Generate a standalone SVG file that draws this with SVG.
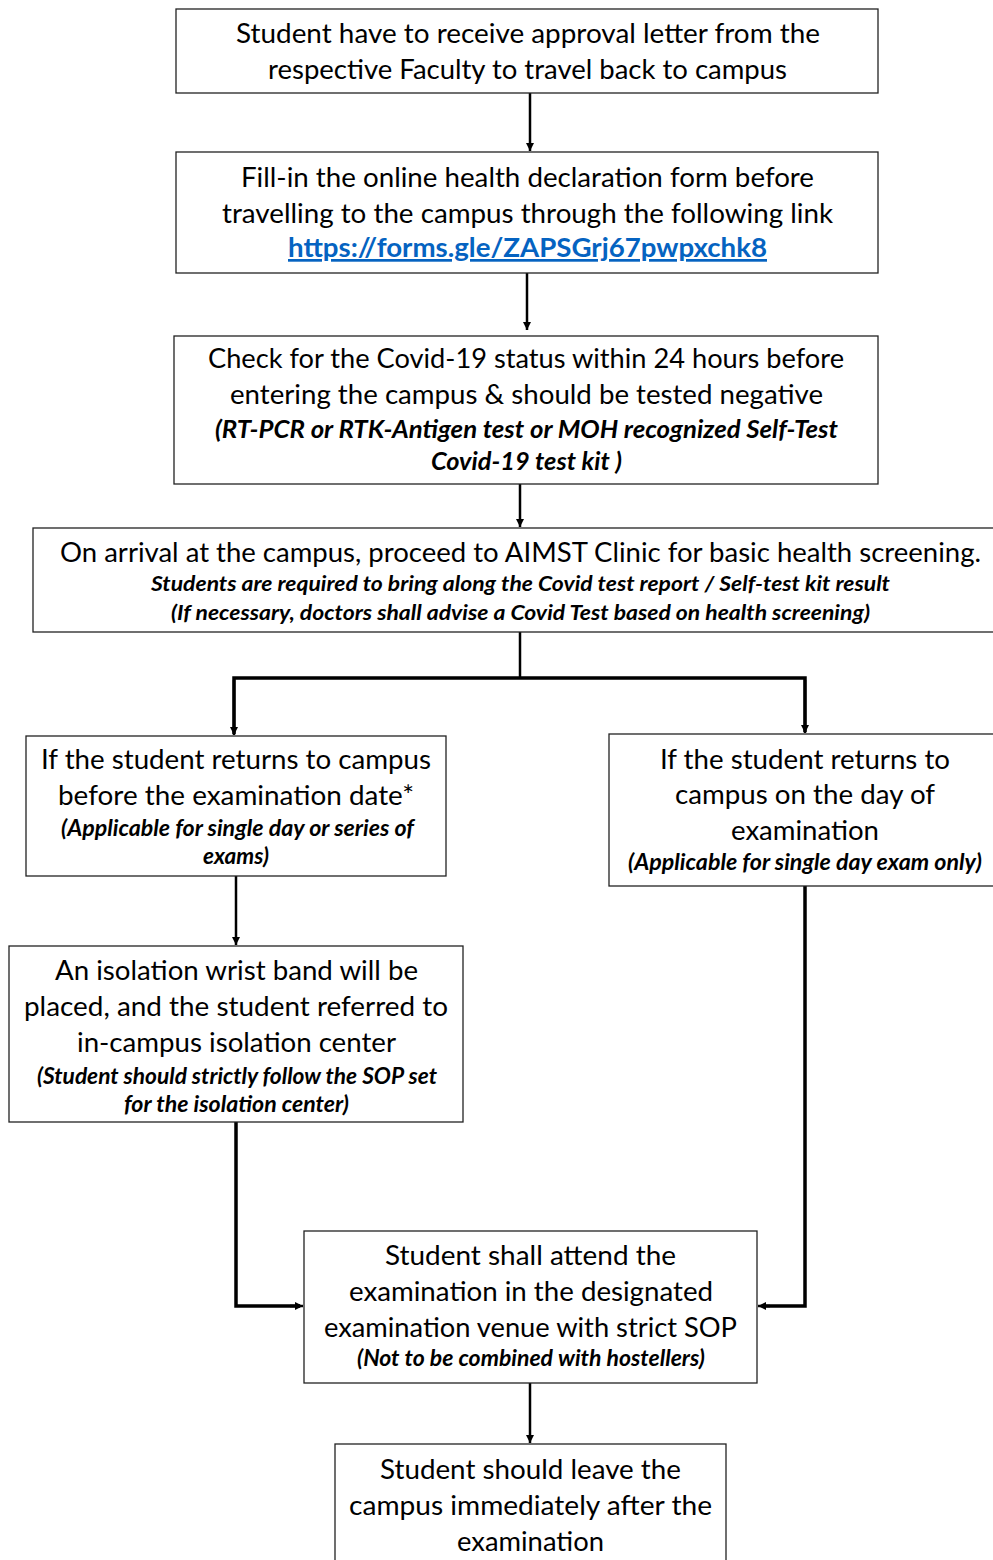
<svg xmlns="http://www.w3.org/2000/svg" width="993" height="1560" viewBox="0 0 993 1560">
<style>
.box{fill:#fff;stroke:#222;stroke-width:1.3}
text{font-family:Lato,"Liberation Sans",sans-serif;fill:#000;text-anchor:middle}
.t{font-size:27px}
.n{font-size:22px;font-weight:bold;font-style:italic}
.s{font-size:21px;font-weight:bold;font-style:italic}
.link{font-size:27px;font-weight:bold;fill:#0563C1;text-decoration:underline}
.c{fill:none;stroke:#000;stroke-width:2.5}
.k{fill:none;stroke:#000;stroke-width:3.5}
</style>
<defs>
<marker id="ah" markerWidth="10" markerHeight="10" refX="8" refY="5" orient="auto" markerUnits="userSpaceOnUse"><path d="M0,1 L8,5 L0,9 Z" fill="#000"/></marker>
</defs>
<g id="connectors">
<line class="c" x1="530" y1="93" x2="530" y2="151" marker-end="url(#ah)"/>
<line class="c" x1="527" y1="273" x2="527" y2="330" marker-end="url(#ah)"/>
<line class="c" x1="520" y1="484" x2="520" y2="527" marker-end="url(#ah)"/>
<line class="c" x1="520" y1="632" x2="520" y2="678"/>
<polyline class="k" points="234,734 234,678 805,678 805,732"/>
<line class="c" x1="234" y1="680" x2="234" y2="735" marker-end="url(#ah)"/>
<line class="c" x1="805" y1="680" x2="805" y2="733" marker-end="url(#ah)"/>
<line class="c" x1="236" y1="876" x2="236" y2="945" marker-end="url(#ah)"/>
<polyline class="k" points="236,1122 236,1306 300,1306"/>
<line class="c" x1="290" y1="1306" x2="303" y2="1306" marker-end="url(#ah)"/>
<polyline class="k" points="805,886 805,1306 762,1306"/>
<line class="c" x1="770" y1="1306" x2="758" y2="1306" marker-end="url(#ah)"/>
<line class="c" x1="530" y1="1383" x2="530" y2="1443" marker-end="url(#ah)"/>
</g>
<g id="n1">
<rect class="box" x="176" y="9" width="702" height="84"/>
<text class="t" x="528" y="43" textLength="584" lengthAdjust="spacingAndGlyphs">Student have to receive approval letter from the</text>
<text class="t" x="527.5" y="79" textLength="519" lengthAdjust="spacingAndGlyphs">respective Faculty to travel back to campus</text>
</g>
<g id="n2">
<rect class="box" x="176" y="152" width="702" height="121"/>
<text class="t" x="527.5" y="187" textLength="573" lengthAdjust="spacingAndGlyphs">Fill-in the online health declaration form before</text>
<text class="t" x="527.5" y="223" textLength="611" lengthAdjust="spacingAndGlyphs">travelling to the campus through the following link</text>
<text class="link" x="527.5" y="257" textLength="479" lengthAdjust="spacingAndGlyphs">https://forms.gle/ZAPSGrj67pwpxchk8</text>
</g>
<g id="n3">
<rect class="box" x="174" y="336" width="704" height="148"/>
<text class="t" x="526" y="368" textLength="636" lengthAdjust="spacingAndGlyphs">Check for the Covid-19 status within 24 hours before</text>
<text class="t" x="526.5" y="404" textLength="593" lengthAdjust="spacingAndGlyphs">entering the campus &amp; should be tested negative</text>
<text class="n" x="526.5" y="438" style="font-size:24px" textLength="623" lengthAdjust="spacingAndGlyphs">(RT-PCR or RTK-Antigen test or MOH recognized Self-Test</text>
<text class="n" x="526.5" y="470" style="font-size:24px" textLength="191" lengthAdjust="spacingAndGlyphs">Covid-19 test kit )</text>
</g>
<g id="n4">
<rect class="box" x="33" y="528" width="970" height="104"/>
<text class="t" x="520.5" y="562" textLength="921" lengthAdjust="spacingAndGlyphs">On arrival at the campus, proceed to AIMST Clinic for basic health screening.</text>
<text class="s" x="520.5" y="591" textLength="739" lengthAdjust="spacingAndGlyphs">Students are required to bring along the Covid test report / Self-test kit result</text>
<text class="s" x="520.5" y="620" textLength="699" lengthAdjust="spacingAndGlyphs">(If necessary, doctors shall advise a Covid Test based on health screening)</text>
</g>
<g id="n5">
<rect class="box" x="26" y="736" width="420" height="140"/>
<text class="t" x="236" y="769" textLength="390" lengthAdjust="spacingAndGlyphs">If the student returns to campus</text>
<text class="t" x="236" y="805" textLength="356" lengthAdjust="spacingAndGlyphs">before the examination date*</text>
<text class="n" x="237.5" y="836" textLength="353" lengthAdjust="spacingAndGlyphs">(Applicable for single day or series of</text>
<text class="n" x="236" y="864" textLength="66" lengthAdjust="spacingAndGlyphs">exams)</text>
</g>
<g id="n6">
<rect class="box" x="609" y="734" width="394" height="152"/>
<text class="t" x="805" y="769" textLength="290" lengthAdjust="spacingAndGlyphs">If the student returns to</text>
<text class="t" x="805" y="804" textLength="260" lengthAdjust="spacingAndGlyphs">campus on the day of</text>
<text class="t" x="805" y="840" textLength="148" lengthAdjust="spacingAndGlyphs">examination</text>
<text class="n" x="805" y="870" textLength="354" lengthAdjust="spacingAndGlyphs">(Applicable for single day exam only)</text>
</g>
<g id="n7">
<rect class="box" x="9" y="946" width="454" height="176"/>
<text class="t" x="236.5" y="980" textLength="363" lengthAdjust="spacingAndGlyphs">An isolation wrist band will be</text>
<text class="t" x="236" y="1016" textLength="424" lengthAdjust="spacingAndGlyphs">placed, and the student referred to</text>
<text class="t" x="236.5" y="1052" textLength="319" lengthAdjust="spacingAndGlyphs">in-campus isolation center</text>
<text class="n" x="237" y="1084" textLength="400" lengthAdjust="spacingAndGlyphs">(Student should strictly follow the SOP set</text>
<text class="n" x="236.5" y="1112" textLength="225" lengthAdjust="spacingAndGlyphs">for the isolation center)</text>
</g>
<g id="n8">
<rect class="box" x="304" y="1231" width="453" height="152"/>
<text class="t" x="530.5" y="1265" textLength="291" lengthAdjust="spacingAndGlyphs">Student shall attend the</text>
<text class="t" x="531" y="1301" textLength="364" lengthAdjust="spacingAndGlyphs">examination in the designated</text>
<text class="t" x="530.5" y="1337" textLength="413" lengthAdjust="spacingAndGlyphs">examination venue with strict SOP</text>
<text class="n" x="531" y="1366" textLength="348" lengthAdjust="spacingAndGlyphs">(Not to be combined with hostellers)</text>
</g>
<g id="n9">
<rect class="box" x="335" y="1444" width="391" height="130"/>
<text class="t" x="530.5" y="1479" textLength="301" lengthAdjust="spacingAndGlyphs">Student should leave the</text>
<text class="t" x="530.5" y="1515" textLength="363" lengthAdjust="spacingAndGlyphs">campus immediately after the</text>
<text class="t" x="530.5" y="1551" textLength="147" lengthAdjust="spacingAndGlyphs">examination</text>
</g>
</svg>
